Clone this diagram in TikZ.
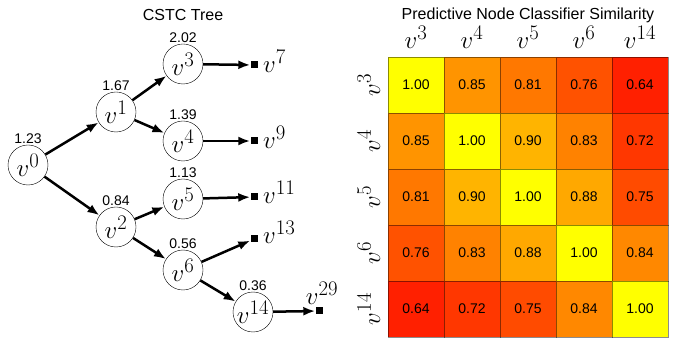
\documentclass[tikz,border=0pt]{standalone}
\usepackage[no-math]{fontspec}
\setmainfont{Liberation Sans}
\usetikzlibrary{arrows.meta}

\newcommand{\vfont}{\fontsize{24.88}{30}\selectfont}
\newcommand{\numfont}{\fontsize{14}{17}\selectfont}
\newcommand{\headfont}{\fontsize{16}{19}\selectfont}

\tikzset{
  tnode/.style={circle, draw, thin, minimum size=40pt, inner sep=0pt, font=\vfont},
  score/.style={font=\numfont, inner sep=1pt},
  leaf/.style={fill, minimum size=7pt, inner sep=0pt},
  vlab/.style={font=\vfont, inner sep=0pt},
  edge/.style={line width=2.5pt, -{Latex[length=12pt,width=9pt]}},
  cellbox/.style={draw=black, draw opacity=0.45, line width=0.6pt}
}

\begin{document}
\begin{tikzpicture}[x=1pt, y=-1pt]
  \useasboundingbox (0,0) rectangle (674,344);

  % tree
  \node[font=\headfont] (ttree) at (183,15) {CSTC Tree};

  \node[tnode, label={[score]above:1.23}] (v0) at (28,165) {$v^0$};
  \node[tnode, label={[score]above:1.67}] (v1) at (116,112) {$v^1$};
  \node[tnode, label={[score]above:0.84}] (v2) at (116,227) {$v^2$};
  \node[tnode, label={[score]above:2.02}] (v3) at (183,64) {$v^3$};
  \node[tnode, label={[score]above:1.39}] (v4) at (183,141) {$v^4$};
  \node[tnode, label={[score]above:1.13}] (v5) at (183,199) {$v^5$};
  \node[tnode, label={[score]above:0.56}] (v6) at (183,270) {$v^6$};
  \node[tnode, label={[score]above:0.36}] (v14) at (253,312) {$v^{14}$};

  % leaves
  \node[leaf] (l7) at (254,65) {};
  \node[leaf] (l9) at (254,141) {};
  \node[leaf] (l11) at (254,197) {};
  \node[leaf] (l13) at (254,239) {};
  \node[leaf] (l29) at (319,311) {};
  \node[vlab, anchor=base west] (t7) at (263,73) {$v^7$};
  \node[vlab, anchor=base west] (t9) at (263,149) {$v^9$};
  \node[vlab, anchor=base west] (t11) at (263,204) {$v^{11}$};
  \node[vlab, anchor=base west] (t13) at (263,244) {$v^{13}$};
  \node[vlab, anchor=base] (t29) at (322,305) {$v^{29}$};

  \draw[edge] (v0) -- (v1);
  \draw[edge] (v0) -- (v2);
  \draw[edge] (v1) -- (v3);
  \draw[edge] (v1) -- (v4);
  \draw[edge] (v2) -- (v5);
  \draw[edge] (v2) -- (v6);
  \draw[edge] (v6) -- (v14);
  \draw[edge] (v3) -- (l7);
  \draw[edge] (v4) -- (l9);
  \draw[edge] (v5) -- (l11);
  \draw[edge] (v6) -- (l13);
  \draw[edge] (v14) -- (l29);

  % similarity matrix
  \node[font=\headfont] (tsim) at (528,15) {Predictive Node Classifier Similarity};

  \foreach \lab [count=\i] in {3,4,5,6,14} {
    \node[vlab, anchor=base] (col\i) at (360+56*\i,49) {$v^{\lab}$};
    \node[vlab, anchor=base, rotate=90] (row\i) at (380,29+56*\i) {$v^{\lab}$};
  }

  \foreach \r/\vals in {1/{1.00/255,0.85/148,0.81/120,0.76/82,0.64/32},
                        2/{0.85/148,1.00/255,0.90/180,0.83/130,0.72/55},
                        3/{0.81/120,0.90/180,1.00/255,0.88/168,0.75/75},
                        4/{0.76/82,0.83/130,0.88/168,1.00/255,0.84/136},
                        5/{0.64/32,0.72/55,0.75/75,0.84/136,1.00/255}} {
    \foreach \val/\g [count=\c] in \vals {
      \definecolor{cellc}{RGB}{255,\g,0}
      \filldraw[fill=cellc, cellbox] (332+56*\c,1+56*\r) rectangle (388+56*\c,57+56*\r);
      \node[score] (m\r\c) at (360+56*\c,29+56*\r) {\val};
    }
  }
\end{tikzpicture}
\end{document}
